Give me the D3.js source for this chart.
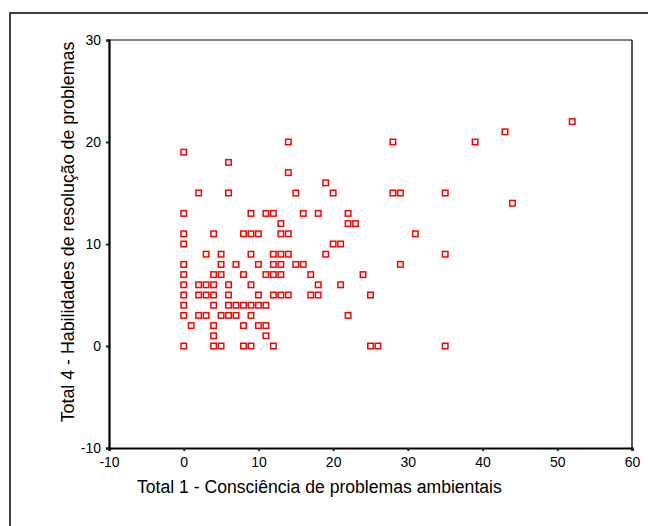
<!DOCTYPE html>
<html>
<head>
<meta charset="utf-8">
<script src="https://cdn.jsdelivr.net/npm/d3@7"></script>
<style>
  body { margin: 0; background: #fff; }
  svg { display: block; font-family: Arial, "Liberation Sans", sans-serif; }
  .tick text { font-size: 14px; fill: #000; }
</style>
</head>
<body>
<svg width="648" height="526"></svg>
<script>
// Total 1 (x) e Total 4 (y), um par por aluno
const total1 = [
  0, 4, 5, 8, 9, 12, 25, 26, 35,
  4, 11,
  1, 4, 8, 10, 11,
  0, 2, 3, 5, 6, 7, 9, 22,
  0, 4, 6, 7, 8, 9, 10, 11,
  0, 2, 3, 4, 6, 10, 12, 13, 14, 17, 18, 25,
  0, 2, 3, 4, 6, 9, 18, 21,
  0, 4, 5, 8, 11, 12, 13, 17, 24,
  0, 5, 7, 10, 12, 13, 15, 16, 29,
  3, 5, 9, 12, 13, 14, 19, 35,
  0, 20, 21,
  0, 4, 8, 9, 10, 13, 14, 31,
  13, 22, 23,
  0, 9, 11, 12, 16, 18, 22,
  44,
  2, 6, 15, 20, 28, 29, 35,
  19,
  14,
  6,
  0,
  14, 28, 39,
  43,
  52
];
const total4 = [
  0, 0, 0, 0, 0, 0, 0, 0, 0,
  1, 1,
  2, 2, 2, 2, 2,
  3, 3, 3, 3, 3, 3, 3, 3,
  4, 4, 4, 4, 4, 4, 4, 4,
  5, 5, 5, 5, 5, 5, 5, 5, 5, 5, 5, 5,
  6, 6, 6, 6, 6, 6, 6, 6,
  7, 7, 7, 7, 7, 7, 7, 7, 7,
  8, 8, 8, 8, 8, 8, 8, 8, 8,
  9, 9, 9, 9, 9, 9, 9, 9,
  10, 10, 10,
  11, 11, 11, 11, 11, 11, 11, 11,
  12, 12, 12,
  13, 13, 13, 13, 13, 13, 13,
  14,
  15, 15, 15, 15, 15, 15, 15,
  16,
  17,
  18,
  19,
  20, 20, 20,
  21,
  22
];

const xTicks = [-10, 0, 10, 20, 30, 40, 50, 60];
const yTicks = [-10, 0, 10, 20, 30];
const xLabel = "Total 1 - Consciência de problemas ambientais";
const yLabel = "Total 4 - Habilidades de resolução de problemas";

const svg = d3.select("svg");

// moldura externa (continua para fora da imagem)
svg.append("rect")
  .attr("x", 10).attr("y", 13)
  .attr("width", 700).attr("height", 600)
  .attr("fill", "none").attr("stroke", "#000").attr("stroke-width", 1.5);

const x = d3.scaleLinear().domain([-10, 60]).range([109, 632]);
const y = d3.scaleLinear().domain([-10, 30]).range([448, 40]);

// topo e direita do quadro
svg.append("line")
  .attr("x1", x(-10)).attr("x2", x(60))
  .attr("y1", y(30)).attr("y2", y(30))
  .attr("stroke", "#555").attr("stroke-width", 1.5);
svg.append("line")
  .attr("x1", x(60)).attr("x2", x(60))
  .attr("y1", y(30)).attr("y2", y(-10))
  .attr("stroke", "#222").attr("stroke-width", 1.5);

const fmt = d => String(d); // hífen normal, como no original
const xAxis = svg.append("g")
  .attr("transform", `translate(0,${y(-10)})`)
  .call(d3.axisBottom(x).tickValues(xTicks).tickFormat(fmt).tickSize(3).tickPadding(6));
const yAxis = svg.append("g")
  .attr("transform", `translate(${x(-10)},0)`)
  .call(d3.axisLeft(y).tickValues(yTicks).tickFormat(fmt).tickSize(3).tickPadding(5));

[xAxis, yAxis].forEach(g => {
  g.select(".domain").attr("stroke", "#000").attr("stroke-width", 2.2);
  g.selectAll(".tick line").attr("stroke", "#222").attr("stroke-width", 2);
});

// pontos
const pts = total1.map((v, i) => ({ x: v, y: total4[i] }));
svg.append("g").selectAll("rect")
  .data(pts)
  .join("rect")
  .attr("x", d => x(d.x) - 2.75)
  .attr("y", d => y(d.y) - 2.75)
  .attr("width", 5.5).attr("height", 5.5)
  .attr("fill", "#fff")
  .attr("stroke", "#f00")
  .attr("stroke-width", 1.5);

svg.append("text")
  .attr("x", 137).attr("y", 493)
  .attr("font-size", 17.6)
  .text(xLabel);

svg.append("text")
  .attr("transform", `translate(74,232) rotate(-90)`)
  .attr("text-anchor", "middle")
  .attr("font-size", 17.8)
  .text(yLabel);
</script>
</body>
</html>
